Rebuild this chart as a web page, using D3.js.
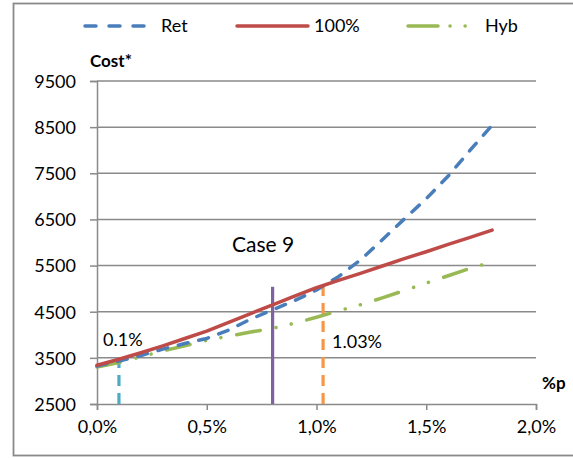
<!DOCTYPE html>
<html>
<head>
<meta charset="utf-8">
<script src="https://cdn.jsdelivr.net/npm/d3@7"></script>
<style>
  html, body { margin: 0; padding: 0; background: #fff; }
  svg { display: block; }
  text { font-family: Lato, "Noto Sans", sans-serif; fill: #000; }
</style>
</head>
<body>
<svg id="chart" width="573" height="458"></svg>
<script>
// ---- data ----
const pctValues = [0, 0.1, 0.2, 0.3, 0.4, 0.5, 0.6, 0.7, 0.8, 0.9, 1.0, 1.1, 1.2, 1.3, 1.4, 1.5, 1.6, 1.7, 1.8];
const retCost  = [3320, 3430, 3550, 3690, 3810, 3920, 4100, 4340, 4540, 4740, 4970, 5260, 5620, 6060, 6510, 6950, 7440, 8000, 8540];
const fullCost = [3340, 3470, 3610, 3760, 3920, 4080, 4270, 4460, 4650, 4840, 5020, 5180, 5330, 5490, 5650, 5800, 5960, 6110, 6270];
const hybCost  = [3300, 3400, 3520, 3650, 3760, 3880, 3970, 4060, 4140, 4250, 4380, 4520, 4650, 4800, 4960, 5120, 5280, 5440, 5580];
const seriesNames = ["Ret", "100%", "Hyb"];
const xTickValues = [0, 0.5, 1.0, 1.5, 2.0];
const yTickValues = [2500, 3500, 4500, 5500, 6500, 7500, 8500, 9500];
const markerPct = [0.1, 0.8, 1.03];
const markerTop = [3420, 5040, 5040];
const markerLabels = ["0.1%", "", "1.03%"];
const caseLabel = "Case 9";
const yAxisTitle = "Cost*";
const xAxisTitle = "%p";

// ---- layout ----
const svg = d3.select("#chart");
const plot = { left: 97, right: 536, top: 81, bottom: 404 };
const x = d3.scaleLinear().domain([0, 2]).range([plot.left, plot.right]);
const y = d3.scaleLinear().domain([2500, 9500]).range([plot.bottom, plot.top]);
const grey = "#8a8a8a";

// outer frame
svg.append("rect").attr("x", 13.5).attr("y", 3.5).attr("width", 620).attr("height", 452)
  .attr("fill", "none").attr("stroke", grey).attr("stroke-width", 1.8);

// y axis with gridlines
const yAxis = svg.append("g").attr("transform", `translate(${plot.left},0)`)
  .call(d3.axisLeft(y).tickValues(yTickValues).tickSize(7).tickPadding(14).tickFormat(d3.format("d")));
yAxis.select(".domain").attr("stroke", grey).attr("stroke-width", 1.5);
yAxis.selectAll(".tick line").attr("stroke", grey).attr("stroke-width", 1.5);
yAxis.selectAll(".tick text").style("font-size", "18px").style("font-family", "Lato, sans-serif").attr("dy", "0.35em");
svg.append("g").selectAll("line").data(yTickValues.filter(v => v > 2500)).join("line")
  .attr("x1", plot.left).attr("x2", plot.right)
  .attr("y1", d => y(d)).attr("y2", d => y(d))
  .attr("stroke", grey).attr("stroke-width", 1.5);

// x axis
const xAxis = svg.append("g").attr("transform", `translate(0,${plot.bottom})`)
  .call(d3.axisBottom(x).tickValues(xTickValues).tickSize(6).tickPadding(10)
    .tickFormat(d => d.toFixed(1).replace(".", ",") + "%"));
xAxis.select(".domain").attr("stroke", grey).attr("stroke-width", 1.5);
xAxis.selectAll(".tick line").attr("stroke", grey).attr("stroke-width", 1.5);
xAxis.selectAll(".tick text").style("font-size", "18px").style("font-family", "Lato, sans-serif");

// axis titles
svg.append("text").attr("x", 90).attr("y", 67).style("font-size", "17px").style("font-weight", "bold").text(yAxisTitle);
svg.append("text").attr("x", 542).attr("y", 389).style("font-size", "17px").style("font-weight", "bold").text(xAxisTitle);

// series
const styles = [
  { color: "#4a7ebb", dash: "10,11", cap: "round" },
  { color: "#be4b48", dash: null, cap: "round" },
  { color: "#98b954", dash: "24,16,0.1,15.5,0.1,16", cap: "round" }
];
const seriesData = [retCost, fullCost, hybCost];
const line = d3.line().x(d => x(d[0])).y(d => y(d[1]));

// vertical markers (drawn beneath series)
const markerStyles = [
  { color: "#4bacc6", dash: "11,7" },
  { color: "#7f62a1", dash: null },
  { color: "#f79646", dash: "11,7" }
];
markerPct.forEach((p, i) => {
  svg.append("line")
    .attr("x1", x(p)).attr("x2", x(p))
    .attr("y1", y(2500)).attr("y2", y(markerTop[i]))
    .attr("stroke", markerStyles[i].color).attr("stroke-width", 3.2)
    .attr("stroke-dasharray", markerStyles[i].dash);
});

[2, 0, 1].forEach(i => {
  svg.append("path")
    .datum(pctValues.map((p, j) => [p, seriesData[i][j]]))
    .attr("d", line)
    .attr("fill", "none")
    .attr("stroke", styles[i].color)
    .attr("stroke-width", 3.5)
    .attr("stroke-linecap", styles[i].cap)
    .attr("stroke-linejoin", "round")
    .attr("stroke-dasharray", styles[i].dash);
});

// annotation texts
svg.append("text").attr("x", 103).attr("y", 346).style("font-size", "18px").text(markerLabels[0]);
svg.append("text").attr("x", 332).attr("y", 348).style("font-size", "18px").text(markerLabels[2]);
svg.append("text").attr("x", 232).attr("y", 252).style("font-size", "21px").text(caseLabel);

// legend
const legendItems = [
  { x1: 85, x2: 152, tx: 161 },
  { x1: 237, x2: 308, tx: 314 },
  { x1: 408, x2: 472, tx: 485 }
];
legendItems.forEach((it, i) => {
  svg.append("line").attr("x1", it.x1).attr("x2", it.x2).attr("y1", 26).attr("y2", 26)
    .attr("stroke", styles[i].color).attr("stroke-width", 3.5)
    .attr("stroke-linecap", "round")
    .attr("stroke-dasharray", i === 0 ? "11,13" : (i === 2 ? "30,12,0.1,15,0.1,15" : null));
  svg.append("text").attr("x", it.tx).attr("y", 26).attr("dy", "0.35em")
    .style("font-size", "18px").text(seriesNames[i]);
});
</script>
</body>
</html>
